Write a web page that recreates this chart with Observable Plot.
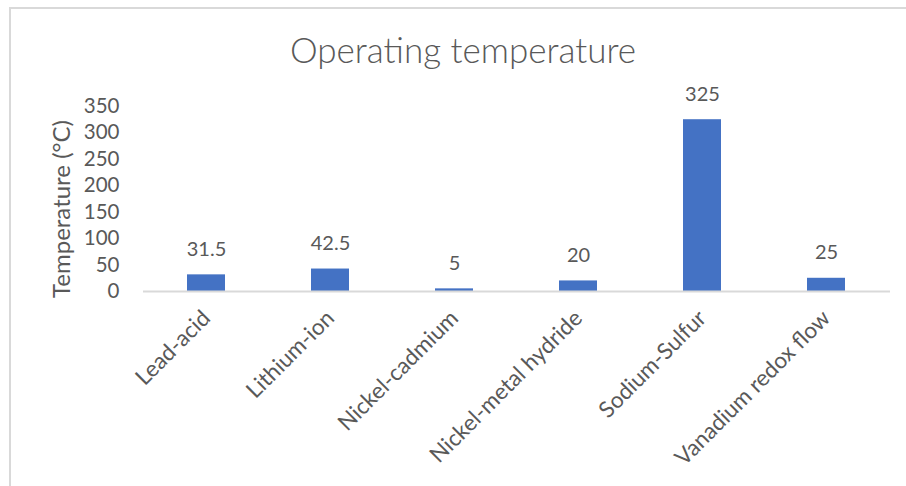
<!DOCTYPE html>
<html>
<head>
<meta charset="utf-8">
<script src="https://cdn.jsdelivr.net/npm/d3@7"></script>
<script src="https://cdn.jsdelivr.net/npm/@observablehq/plot@0.6"></script>
<style>
  html, body { margin: 0; padding: 0; background: #fff; }
  #wrap { position: relative; width: 906px; height: 486px; overflow: hidden; font-family: Lato, "Open Sans", sans-serif; }
  #frame { position: absolute; left: 9px; top: 7px; width: 900px; height: 482px; border-left: 2px solid #d9d9d9; border-top: 2px solid #d9d9d9; box-sizing: border-box; }
  #title { position: absolute; left: 10px; width: 906px; top: 27px; text-align: center; font-size: 35px; font-weight: 300; color: #595959; line-height: 44px; }
  #chart { position: absolute; left: 0; top: 0; }
</style>
</head>
<body>
<div id="wrap">
  <div id="frame"></div>
  <div id="chart"></div>
  <div id="title">Operating temperature</div>
</div>
<script>
const categories = ["Lead-acid", "Lithium-ion", "Nickel-cadmium", "Nickel-metal hydride", "Sodium-Sulfur", "Vanadium redox flow"];
const temperatures = [31.5, 42.5, 5, 20, 325, 25];
const yTicks = [0, 50, 100, 150, 200, 250, 300, 350];
const yLabel = "Temperature (°C)";

const data = categories.map((c, i) => ({ category: c, value: temperatures[i] }));
const textColor = "#595959";

const plot = Plot.plot({
  width: 906,
  height: 486,
  marginTop: 106,
  marginBottom: 195,
  marginLeft: 143,
  marginRight: 16,
  style: { fontFamily: "Lato, 'Open Sans', sans-serif", background: "transparent", color: textColor },
  x: { domain: categories, paddingInner: 0.69, paddingOuter: 0.345 },
  y: { domain: [0, 350] },
  marks: [
    Plot.axisY({ ticks: yTicks, tickSize: 0, tickPadding: 24, fontSize: 20.5, fill: textColor, label: null }),
    Plot.text([yLabel], { frameAnchor: "left", textAnchor: "middle", rotate: -90, dx: -81, dy: 10, fontSize: 24, fill: textColor }),
    Plot.axisX({ tickSize: 0, tickRotate: -45, tickPadding: 23, fontSize: 22.5, fill: textColor, label: null, dx: 0 }),
    Plot.barY(data, { x: "category", y: "value", fill: "#4472C4" }),
    Plot.ruleY([0], { stroke: "#d9d9d9", strokeWidth: 2 }),
    Plot.text(data, { x: "category", y: "value", text: d => String(d.value), dy: -19, lineAnchor: "bottom", fontSize: 20, fill: textColor })
  ]
});
document.getElementById("chart").appendChild(plot);
</script>
</body>
</html>
